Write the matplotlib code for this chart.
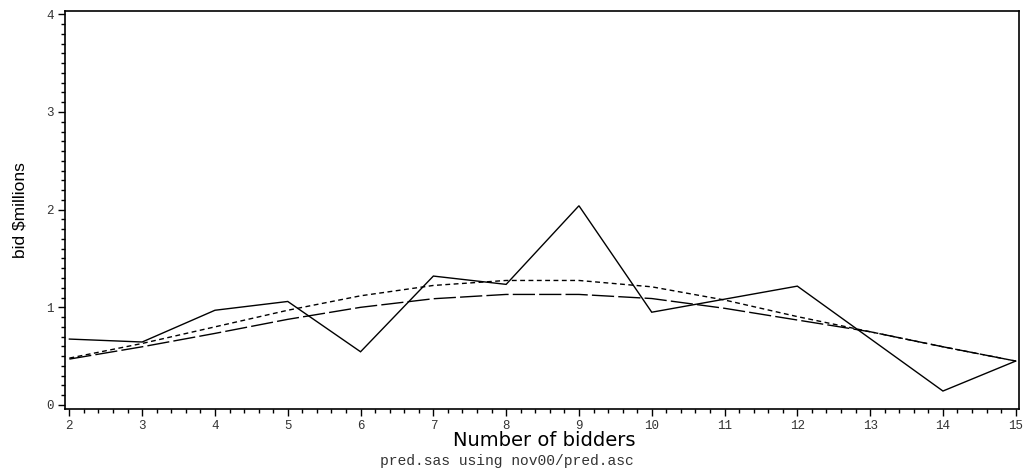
import matplotlib
matplotlib.use("Agg")
import matplotlib.pyplot as plt
from matplotlib.ticker import MultipleLocator

# Observed bids (solid)
obs_x = [2, 3, 4, 5, 6, 7, 8, 9, 10, 12, 14, 15]
obs_y = [0.675, 0.645, 0.97, 1.06, 0.545, 1.32, 1.235, 2.04, 0.95, 1.217, 0.143, 0.45]

# Predicted curves
pred_x = [2, 3, 4, 5, 6, 7, 8, 9, 10, 11, 12, 13, 14, 15]
pred_short = [0.48, 0.63, 0.80, 0.97, 1.118, 1.224, 1.275, 1.275, 1.21, 1.075, 0.905, 0.75, 0.596, 0.45]
pred_long = [0.47, 0.596, 0.733, 0.877, 1.0, 1.088, 1.132, 1.132, 1.09, 0.99, 0.87, 0.75, 0.596, 0.45]

x_ticks = list(range(2, 16))
y_ticks = [0, 1, 2, 3, 4]

fig = plt.figure(figsize=(10.26, 4.69), dpi=100)
ax = fig.add_axes([65/1026, 60/469, (1019-65)/1026, (409-10.7)/469])

ax.plot(obs_x, obs_y, color="black", lw=1.0, solid_joinstyle="miter")
ax.plot(pred_x, pred_short, color="black", lw=1.0, dashes=(3.5, 2.5))
ax.plot(pred_x, pred_long, color="black", lw=1.0, dashes=(16, 3))

ax.set_xlim(1.94, 15.045)
ax.set_ylim(-0.041, 4.037)
ax.set_xticks(x_ticks)
ax.set_yticks(y_ticks)
ax.xaxis.set_minor_locator(MultipleLocator(0.2))
ax.yaxis.set_minor_locator(MultipleLocator(0.1))

mono = "Liberation Mono"
ax.set_xticklabels([str(v) for v in x_ticks], family=mono, fontsize=9, color="#333333")
ax.set_yticklabels([str(v) for v in y_ticks], family=mono, fontsize=9, color="#333333")
ax.tick_params(axis="both", which="major", direction="out", length=5, width=1.0, pad=3)
ax.tick_params(axis="both", which="minor", direction="out", length=3, width=1.0)
for s in ax.spines.values():
    s.set_linewidth(1.2)

fig.text(20/1026, 1 - 210/469, "bid $millions", family="Liberation Sans", fontsize=12.5,
         rotation=90, ha="center", va="center")
fig.text(544/1026, 1 - 440/469, "Number of bidders", family="DejaVu Sans", fontsize=14,
         ha="center", va="center")
fig.text(507/1026, 1 - 461/469, "pred.sas using nov00/pred.asc", family=mono,
         fontsize=10.5, ha="center", va="center", color="#333333")

fig.savefig("out.png", dpi=100)
